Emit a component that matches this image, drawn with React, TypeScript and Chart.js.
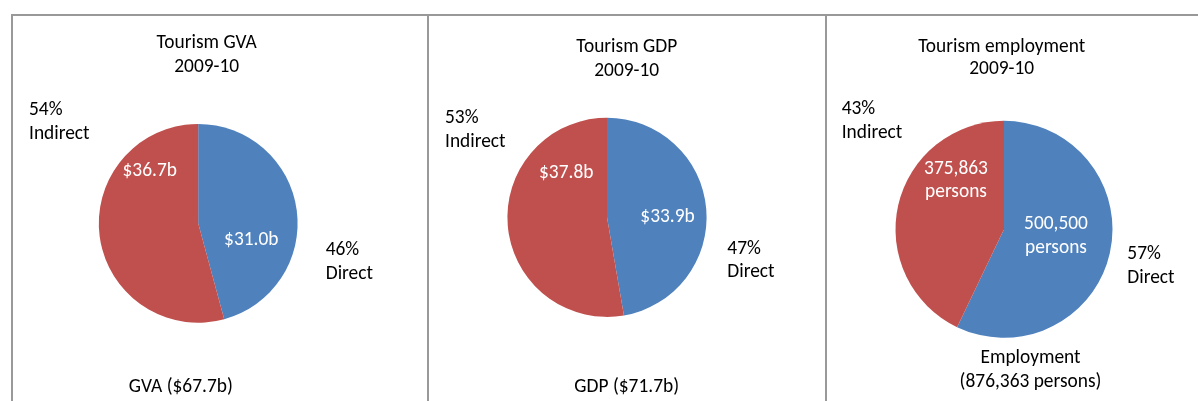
import React, { useEffect, useRef } from "react";
import { Chart, registerables } from "chart.js";

Chart.register(...registerables);

// ---- data ----
const sliceNames = ["Direct", "Indirect"];
const gvaValues = [31.0, 36.7]; // $b
const gdpValues = [33.9, 37.8]; // $b
const employmentValues = [500500, 375863]; // persons
const panelTitles = [
  ["Tourism GVA", "2009-10"],
  ["Tourism GDP", "2009-10"],
  ["Tourism employment", "2009-10"],
];
const totalNames = ["GVA", "GDP", "Employment"];
const sliceColors = ["#4F81BD", "#C0504D"];

const FONT_FAMILY = "Carlito, Calibri, Lato, 'Noto Sans', sans-serif";
const FONT_SIZE = 19.4;

type Pos = { x: number; y: number[] };
type PanelLayout = {
  canvas: { x: number; y: number; w: number; h: number };
  center: [number, number];
  radius: number;
  title: Pos;
  footer: Pos;
  inner: Pos[];
  outer: Pos[];
};

const money = (v: number) => [`$${v.toFixed(1)}b`];
const persons = (v: number) => [v.toLocaleString("en-US"), "persons"];

const panels = [
  {
    values: gvaValues,
    title: panelTitles[0],
    fmt: money,
    footer: (t: number) => [`${totalNames[0]} ($${t.toFixed(1)}b)`],
  },
  {
    values: gdpValues,
    title: panelTitles[1],
    fmt: money,
    footer: (t: number) => [`${totalNames[1]} ($${t.toFixed(1)}b)`],
  },
  {
    values: employmentValues,
    title: panelTitles[2],
    fmt: persons,
    footer: (t: number) => [totalNames[2], `(${t.toLocaleString("en-US")} persons)`],
  },
];

// ---- layout (page coordinates) ----
const layouts: PanelLayout[] = [
  {
    canvas: { x: 13, y: 16, w: 413, h: 385 },
    center: [198.2, 223.3],
    radius: 99.4,
    title: { x: 206.7, y: [48.3, 72.3] },
    footer: { x: 180.8, y: [391.7] },
    inner: [
      { x: 251.3, y: [245] },
      { x: 149.7, y: [176] },
    ],
    outer: [
      { x: 325.7, y: [255, 278.7] },
      { x: 29, y: [115, 139.3] },
    ],
  },
  {
    canvas: { x: 429, y: 16, w: 395, h: 385 },
    center: [607, 217.3],
    radius: 99.6,
    title: { x: 626.7, y: [52.3, 76] },
    footer: { x: 626.7, y: [391.7] },
    inner: [
      { x: 667.5, y: [221.7] },
      { x: 566.2, y: [178.3] },
    ],
    outer: [
      { x: 727.3, y: [254.3, 277.3] },
      { x: 445, y: [123.3, 146.7] },
    ],
  },
  {
    canvas: { x: 827, y: 16, w: 371, h: 385 },
    center: [1004, 229.3],
    radius: 108.5,
    title: { x: 1001.7, y: [51.7, 74] },
    footer: { x: 1030.5, y: [363.3, 386.7] },
    inner: [
      { x: 1056, y: [229.3, 253.3] },
      { x: 956, y: [174, 196.7] },
    ],
    outer: [
      { x: 1127.3, y: [259, 283.3] },
      { x: 841.7, y: [114, 138] },
    ],
  },
];

function PiePanel({ index }: { index: number }) {
  const ref = useRef<HTMLCanvasElement>(null);
  const panel = panels[index];
  const lay = layouts[index];

  useEffect(() => {
    const canvas = ref.current;
    if (!canvas) return;
    const { x, y, w, h } = lay.canvas;
    const lcx = lay.center[0] - x;
    const lcy = lay.center[1] - y;
    const padding = {
      left: Math.max(0, 2 * lcx - w),
      right: Math.max(0, w - 2 * lcx),
      top: Math.max(0, 2 * lcy - h),
      bottom: Math.max(0, h - 2 * lcy),
    };
    const total = panel.values.reduce((a, b) => a + b, 0);

    const textPlugin = {
      id: "panelText",
      afterDraw(chart: any) {
        const ctx = chart.ctx as CanvasRenderingContext2D;
        ctx.save();
        ctx.font = `${FONT_SIZE}px ${FONT_FAMILY}`;
        ctx.textBaseline = "alphabetic";
        const draw = (lines: string[], p: Pos, align: CanvasTextAlign, color: string) => {
          ctx.fillStyle = color;
          ctx.textAlign = align;
          lines.forEach((line, i) => ctx.fillText(line, p.x - x, p.y[i] - y));
        };
        draw(panel.title, lay.title, "center", "#000");
        draw(panel.footer(total), lay.footer, "center", "#000");
        panel.values.forEach((v, i) => {
          draw(panel.fmt(v), lay.inner[i], "center", "#fff");
          const pct = Math.round((v / total) * 100);
          draw([`${pct}%`, sliceNames[i]], lay.outer[i], "left", "#000");
        });
        ctx.restore();
      },
    };

    const chart = new Chart(canvas, {
      type: "pie",
      data: {
        labels: sliceNames,
        datasets: [
          {
            data: panel.values,
            backgroundColor: sliceColors,
            borderWidth: 0,
            hoverOffset: 0,
          },
        ],
      },
      options: {
        animation: false,
        responsive: false,
        events: [],
        radius: lay.radius,
        layout: { padding },
        plugins: {
          legend: { display: false },
          tooltip: { enabled: false },
          title: { display: false },
        },
      } as any,
      plugins: [textPlugin],
    });
    return () => chart.destroy();
  }, [index]);

  const { x, y, w, h } = lay.canvas;
  return (
    <canvas
      ref={ref}
      width={w}
      height={h}
      style={{ position: "absolute", left: x, top: y, width: w, height: h }}
    />
  );
}

const lineColor = "#999999";

export default function App() {
  return (
    <div
      style={{
        position: "absolute",
        left: 0,
        top: 0,
        width: 1198,
        height: 401,
        overflow: "hidden",
        background: "#fff",
      }}
    >
      <div style={{ position: "absolute", left: 11, top: 14, width: 1187, height: 2, background: lineColor }} />
      <div style={{ position: "absolute", left: 11, top: 14, width: 2, height: 387, background: lineColor }} />
      <div style={{ position: "absolute", left: 427, top: 14, width: 2, height: 387, background: lineColor }} />
      <div style={{ position: "absolute", left: 825, top: 14, width: 2, height: 387, background: lineColor }} />
      <PiePanel index={0} />
      <PiePanel index={1} />
      <PiePanel index={2} />
    </div>
  );
}
